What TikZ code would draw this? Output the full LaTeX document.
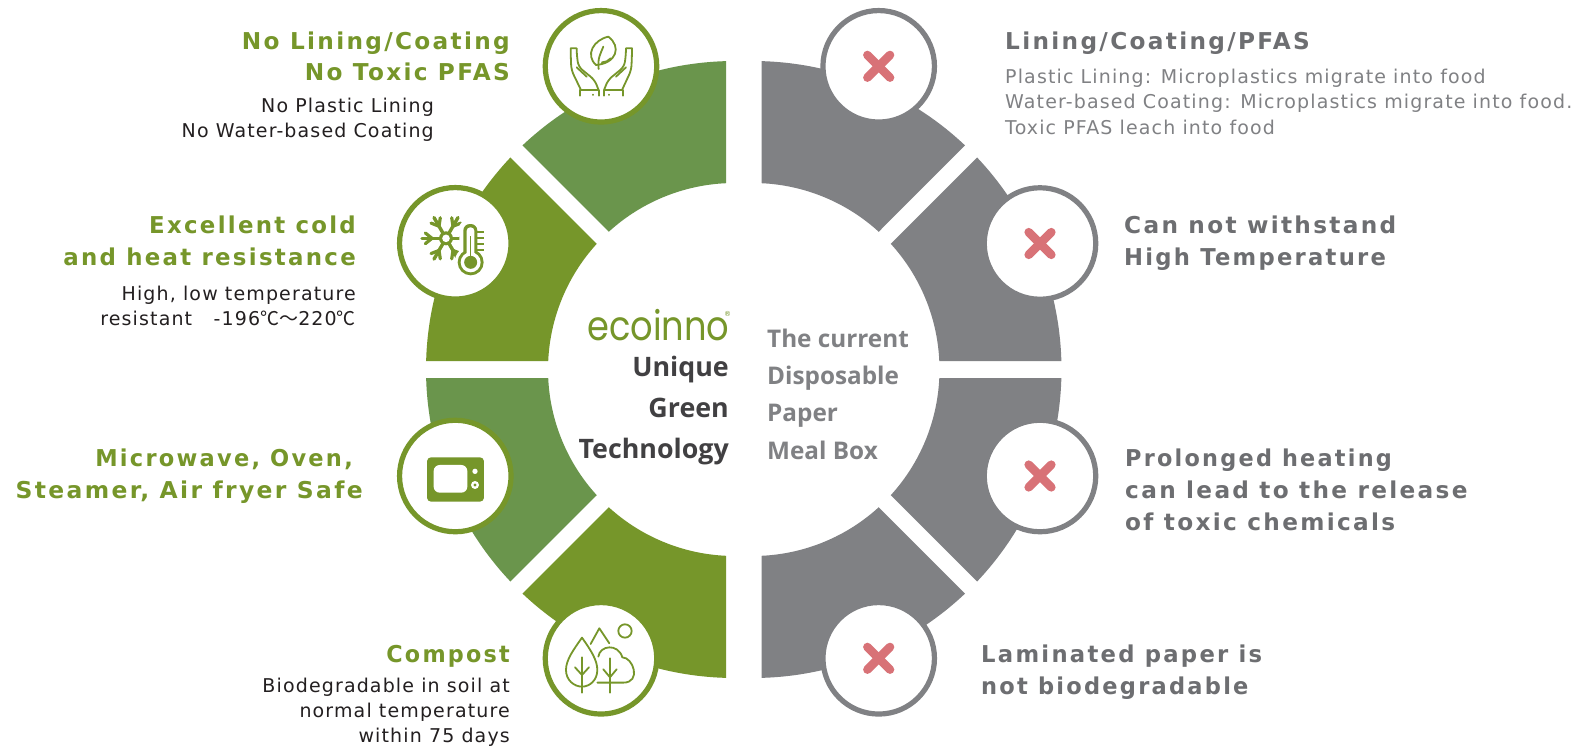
\documentclass[tikz,border=0pt]{standalone}
\usepackage{fontspec}
\setmainfont{DejaVu Sans}
\newfontfamily\ttlfont[LetterSpace=10]{DejaVu Sans}
\newfontfamily\subfont[LetterSpace=6]{DejaVu Sans}
\newfontfamily\midfont{Open Sans}
\newfontfamily\logofont{Poppins}
\newfontfamily\cjkfont{Noto Sans CJK SC}
\definecolor{olive}{HTML}{76962A}
\definecolor{leafg}{HTML}{6A954C}
\definecolor{greyband}{HTML}{808184}
\definecolor{greytitle}{HTML}{6D6E71}
\definecolor{greysub}{HTML}{808184}
\definecolor{crossred}{HTML}{D87277}
\definecolor{inkblack}{HTML}{231F20}
\definecolor{inkdark}{HTML}{414042}
\newcommand\ringseg[3]{%
  \fill[#3,shift={(#1,369.5)}] ({#2+1.579}:308.5pt) arc[start angle={#2+1.579},end angle={#2+45-1.579},radius=308.5pt]
    -- ({#2+45-2.612}:186.5pt) arc[start angle={#2+45-2.612},end angle={#2+2.612},radius=186.5pt] -- cycle;}
\newcommand\hs[2]{\scalebox{#1}[1]{#2}}
\tikzset{
  ttl/.style={inner sep=0pt,font=\ttlfont\bfseries\fontsize{23.2}{25}\selectfont},
  sub/.style={inner sep=0pt,font=\subfont\fontsize{19}{21}\selectfont},
  midl/.style={inner sep=0pt,font=\midfont\bfseries\fontsize{26.8}{28}\selectfont},
  midr/.style={inner sep=0pt,font=\midfont\bfseries\fontsize{24.3}{28}\selectfont},
  ringgreen/.style={circle,draw=olive,line width=5.2pt,fill=white,minimum size=111.5pt,inner sep=0pt},
  ringgrey/.style={circle,draw=greyband,line width=5.2pt,fill=white,minimum size=111.5pt,inner sep=0pt},
  ico/.style={draw=olive,line width=1.8pt,line cap=round,line join=round},
  crossmark/.style={draw=crossred,line width=8.6pt,line cap=round},
}
\begin{document}
\begin{tikzpicture}[x=1pt,y=-1pt]
\useasboundingbox (0,0) rectangle (1582,747);
\fill[white] (0,0) rectangle (1582,747);
% bands
\ringseg{734.5}{90}{leafg}
\ringseg{734.5}{135}{olive}
\ringseg{734.5}{180}{leafg}
\ringseg{734.5}{225}{olive}
\ringseg{753}{45}{greyband}
\ringseg{753}{0}{greyband}
\ringseg{753}{-45}{greyband}
\ringseg{753}{-90}{greyband}
% discs
\node[ringgreen] (c1) at (601,66.3) {};
\node[ringgreen] (c2) at (455.3,243.3) {};
\node[ringgreen] (c3) at (455.3,476) {};
\node[ringgreen] (c4) at (601,658.3) {};
\node[ringgrey] (d1) at (878.7,66.3) {};
\node[ringgrey] (d2) at (1040,243.5) {};
\node[ringgrey] (d3) at (1040,476) {};
\node[ringgrey] (d4) at (878.7,658.3) {};
% crosses
\foreach \n in {d1,d2,d3,d4}{
  \draw[crossmark] ([shift={(-11.3,-11.3)}]\n.center) -- ([shift={(11.3,11.3)}]\n.center);
  \draw[crossmark] ([shift={(-11.3,11.3)}]\n.center) -- ([shift={(11.3,-11.3)}]\n.center);
}
% hands + leaf
\begin{scope}[shift={(560,25)},x=.3333pt,y=-.3333pt]
  \draw[ico] (145,35) .. controls (100,45) and (75,90) .. (108,120) .. controls (170,115) and (185,65) .. (145,35);
  \draw[ico] (130,65) .. controls (122,85) and (112,100) .. (116,132);
  \draw[ico] (126,112) .. controls (135,112) and (146,108) .. (152,100);
  \draw[ico,rounded corners=5pt] (62,193) -- (34,135) -- (32,85) .. controls (32,70) and (50,70) .. (50,85) -- (55,125) -- (104,165) -- (115,193);
  \draw[ico] (50,127) -- (80,155);
  \draw[ico] (59,212) -- (59,195) -- (117,195) -- (117,212);
  \draw[ico] (100,210) -- (100,209);
  \draw[ico,rounded corners=5pt] (187,193) -- (214,135) -- (216,85) .. controls (216,70) and (198,70) .. (198,85) -- (193,125) -- (144,165) -- (133,193);
  \draw[ico] (198,127) -- (168,155);
  \draw[ico] (189,212) -- (189,195) -- (131,195) -- (131,212);
  \draw[ico] (148,210) -- (148,209);
\end{scope}
% snowflake + thermometer
\begin{scope}[shift={(410,200)},x=.3333pt,y=-.3333pt]
  \foreach \a in {0,60,120,180,240,300}{
    \begin{scope}[shift={(108,115)},x=.3333pt,y=.3333pt,rotate=\a]
      \draw[olive,line width=3.4pt,line cap=round] (15,0) -- (72,0);
      \draw[olive,line width=3.2pt,line cap=round] (42,0) -- (62,-16) (42,0) -- (62,16);
    \end{scope}
  }
  \fill[olive] (108,115) circle[radius=7pt];
  \fill[white] (108,115) circle[radius=3.8pt];
  % white halo, then the glass
  \fill[white,rounded corners=8pt] (148,60) rectangle (212,170);
  \fill[white] (182,187) circle[radius=16pt];
  \fill[olive,rounded corners=6.5pt] (160,72) rectangle (202,180);
  \fill[olive] (182,187) circle[radius=13pt];
  \fill[white,rounded corners=3.5pt] (170,82) rectangle (193,175);
  \fill[white] (182,187) circle[radius=10pt];
  \fill[olive] (182,187) circle[radius=6.5pt];
  \draw[olive,line width=1.6pt] (182,108) -- (182,170);
  \draw[olive,line width=1.8pt] (202,95) -- (222,95) (202,113) -- (222,113) (202,131) -- (222,131) (202,149) -- (222,149);
\end{scope}
% microwave
\begin{scope}[shift={(380,370)},x=.3333pt,y=-.3333pt]
  \fill[olive,rounded corners=4pt] (141,262) rectangle (312,395);
  \fill[white,rounded corners=6pt] (161,285) rectangle (262,368);
  \fill[white] (285,304) circle[radius=8];
  \fill[white] (285,345) circle[radius=12];
  \fill[olive] (285,345) circle[radius=5];
\end{scope}
% forest
\begin{scope}[shift={(380,370)},x=.3333pt,y=-.3333pt]
  \draw[ico] (606,803) .. controls (580,840) and (558,870) .. (558,900) .. controls (558,930) and (582,950) .. (606,950) .. controls (630,950) and (652,930) .. (652,900) .. controls (652,870) and (632,840) .. (606,803);
  \draw[ico] (606,862) -- (606,968) (585,892) -- (606,915) -- (627,892);
  \draw[ico] (632,822) -- (658,775) -- (688,820);
  \draw[ico] (735,783) circle[radius=20];
  \draw[ico] (655,860) .. controls (660,825) and (715,820) .. (727,862) .. controls (760,862) and (785,938) .. (730,938) -- (652,938);
  \draw[ico] (690,865) -- (690,968) (670,898) -- (690,922) -- (710,898);
\end{scope}
% centre text
\node[anchor=base west,inner sep=0pt,text=olive,font=\logofont\fontsize{41}{41}\selectfont] (logo) at (587,340) {\hs{.86}{ecoinno}};
\node[anchor=center,inner sep=0pt,text=olive,font=\fontsize{7}{7}\selectfont] (reg) at (727.5,313.5) {®};
\node[midl,text=inkdark,anchor=base east] (u1) at (729,376.7) {Unique};
\node[midl,text=inkdark,anchor=base east] (u2) at (729,417.7) {Green};
\node[midl,text=inkdark,anchor=base east] (u3) at (729,458) {Technology};
\node[midr,text=greyband,anchor=base west] (v1) at (767,347) {The current};
\node[midr,text=greyband,anchor=base west] (v2) at (767,384) {Disposable};
\node[midr,text=greyband,anchor=base west] (v3) at (767,421.7) {Paper};
\node[midr,text=greyband,anchor=base west] (v4) at (767,459) {Meal Box};
% left text
\node[ttl,text=olive,anchor=base east] (a1) at (510,49) {No Lining/Coating};
\node[ttl,text=olive,anchor=base east] (a2) at (510,80) {No Toxic PFAS};
\node[sub,text=inkblack,anchor=base east] (a3) at (434,112) {No Plastic Lining};
\node[sub,text=inkblack,anchor=base east] (a4) at (434,137) {No Water-based Coating};
\node[ttl,text=olive,anchor=base east] (b1) at (356,233) {\hs{.985}{Excellent cold}};
\node[ttl,text=olive,anchor=base east] (b2) at (356,265) {\hs{.986}{and heat resistance}};
\node[sub,text=inkblack,anchor=base east] (b3) at (356,300) {High, low temperature};
\node[sub,text=inkblack,anchor=base east] (b4) at (356,325) {resistant\ \ \ -196{\cjkfont ℃～}220{\cjkfont ℃}};
\node[ttl,text=olive,anchor=base east] (e1) at (353,466) {\hs{.97}{Microwave, Oven,}};
\node[ttl,text=olive,anchor=base east] (e2) at (363,498) {\hs{1.01}{Steamer, Air fryer Safe}};
\node[ttl,text=olive,anchor=base east] (f1) at (510,662) {\hs{.96}{Compost}};
\node[sub,text=inkblack,anchor=base east] (f2) at (510,692) {Biodegradable in soil at};
\node[sub,text=inkblack,anchor=base east] (f3) at (510,717) {normal temperature};
\node[sub,text=inkblack,anchor=base east] (f4) at (510,742) {within 75 days};
% right text
\node[ttl,text=greytitle,anchor=base west] (g1) at (1005,49) {Lining/Coating/PFAS};
\node[sub,text=greysub,anchor=base west] (g2) at (1005,83) {Plastic Lining: Microplastics migrate into food};
\node[sub,text=greysub,anchor=base west] (g3) at (1005,108) {Water-based Coating: Microplastics migrate into food.};
\node[sub,text=greysub,anchor=base west] (g4) at (1005,134) {Toxic PFAS leach into food};
\node[ttl,text=greytitle,anchor=base west] (h1) at (1124,233) {Can not withstand};
\node[ttl,text=greytitle,anchor=base west] (h2) at (1124,265) {\hs{.977}{High Temperature}};
\node[ttl,text=greytitle,anchor=base west] (i1) at (1125,466) {\hs{.964}{Prolonged heating}};
\node[ttl,text=greytitle,anchor=base west] (i2) at (1125,498) {can lead to the release};
\node[ttl,text=greytitle,anchor=base west] (i3) at (1125,530) {of toxic chemicals};
\node[ttl,text=greytitle,anchor=base west] (j1) at (981,662) {\hs{.979}{Laminated paper is}};
\node[ttl,text=greytitle,anchor=base west] (j2) at (981,694) {\hs{.97}{not biodegradable}};
\end{tikzpicture}
\end{document}
